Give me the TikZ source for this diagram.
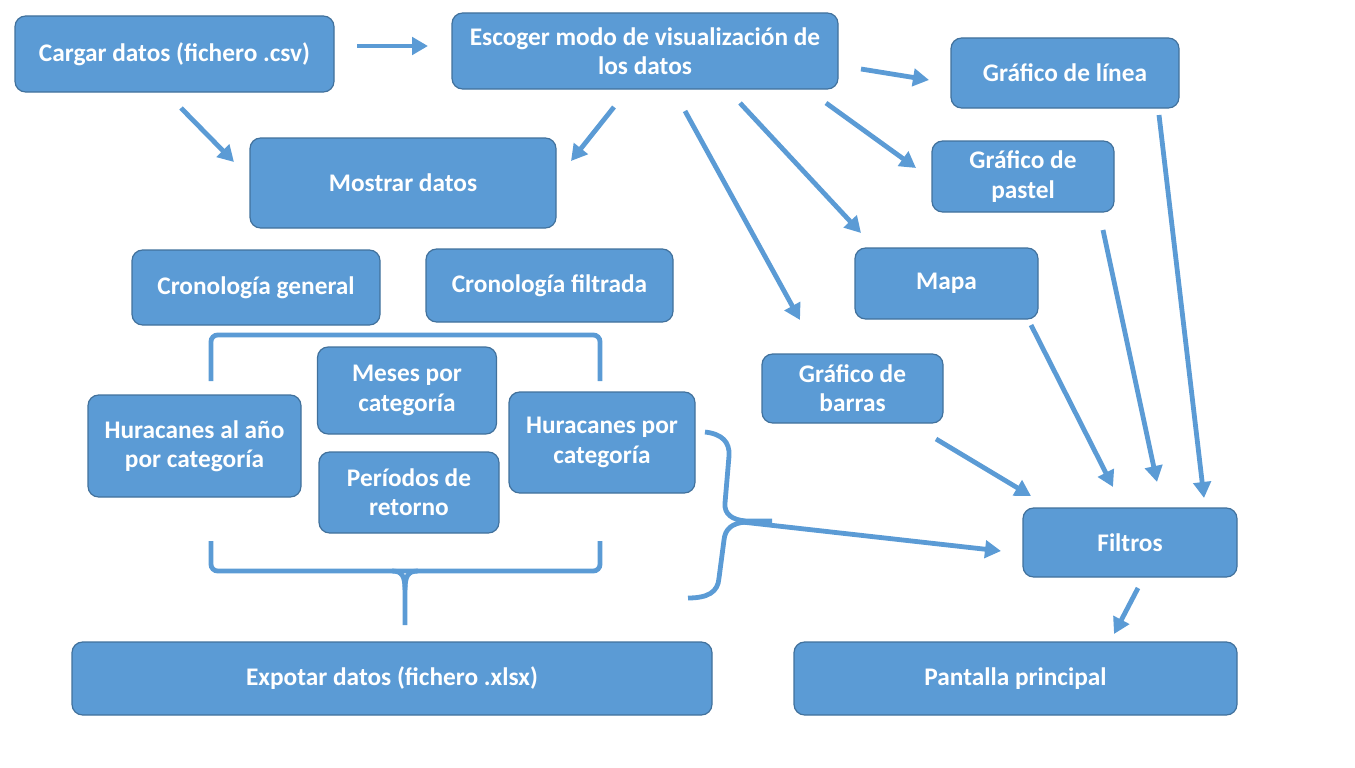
\documentclass[tikz,border=0pt]{standalone}
\usepackage{fontspec}
\setmainfont{Carlito}
\usetikzlibrary{arrows.meta}
\definecolor{boxfill}{RGB}{91,155,213}
\definecolor{boxline}{RGB}{65,113,156}
\definecolor{arr}{RGB}{91,155,213}
\begin{document}
\begin{tikzpicture}[x=0.75pt,y=-0.75pt,
  box/.style 2 args={draw=boxline, line width=0.9pt, fill=boxfill, rounded corners=8pt,
    minimum width=#1*0.75pt, minimum height=#2*0.75pt, inner sep=0pt,
    text=white, align=center, font=\fontsize{19}{22}\selectfont\bfseries},
  conn/.style={draw=arr, line width=3.6pt, -{Triangle[length=12pt,width=13pt]}},
  bracket/.style={draw=arr, line width=3.6pt, rounded corners=5pt}]
\useasboundingbox (0,0) rectangle (1355,767);

% boxes
\node[box={319}{76}] (cargar) at (174.5,54) {Cargar datos (fichero .csv)};
\node[box={386}{76}] (escoger) at (645,51) {Escoger modo de visualización de\\los datos};
\node[box={228}{70}] (linea) at (1065,73) {Gráfico de línea};
\node[box={306}{90}] (mostrar) at (403,183) {Mostrar datos};
\node[box={182}{71}] (pastel) at (1023,176.5) {Gráfico de\\pastel};
\node[box={183}{71}] (mapa) at (946.5,283.5) {Mapa};
\node[box={248}{75}] (crongen) at (256,287.5) {Cronología general};
\node[box={247}{73}] (cronfil) at (549.5,285.5) {Cronología filtrada};
\node[box={181}{69}] (barras) at (852.5,388.5) {Gráfico de\\barras};
\node[box={179}{87}] (meses) at (407,390.5) {Meses por\\categoría};
\node[box={180}{81}] (periodos) at (409,492.5) {Períodos de\\retorno};
\node[box={186}{101}] (hurcat) at (602,442.5) {Huracanes por\\categoría};
\node[box={213}{102}] (huranio) at (194.5,446) {Huracanes al año\\por categoría};
\node[box={214}{69}] (filtros) at (1130,542.5) {Filtros};
\node[box={640}{73}] (exportar) at (392,678.5) {Expotar datos (fichero .xlsx)};
\node[box={443}{73}] (pantalla) at (1015.5,678.5) {Pantalla principal};

% arrow end points
\coordinate (a1s) at (357,46);   \coordinate (a1e) at (428,46);
\coordinate (a2s) at (181,108);  \coordinate (a2e) at (234,162);
\coordinate (a3s) at (614,107);  \coordinate (a3e) at (571,161);
\coordinate (a4s) at (861,69);   \coordinate (a4e) at (929,80);
\coordinate (a5s) at (826,103);  \coordinate (a5e) at (916,168);
\coordinate (a6s) at (740,103);  \coordinate (a6e) at (861,233);
\coordinate (a7s) at (685,111);  \coordinate (a7e) at (800,320);
\coordinate (a8s) at (1159,115); \coordinate (a8e) at (1204,498);
\coordinate (a9s) at (1103,230); \coordinate (a9e) at (1157,482);
\coordinate (a10s) at (1031,325); \coordinate (a10e) at (1113,487);
\coordinate (a11s) at (936,439); \coordinate (a11e) at (1031,496);
\coordinate (a12s) at (1138,588); \coordinate (a12e) at (1114,634);
\coordinate (a13s) at (742,522); \coordinate (a13e) at (1001,551);

\foreach \i in {1,...,13} {\draw[conn] (a\i s) -- (a\i e);}

% top bracket
\draw[bracket] (211,381) -- (211,335) -- (600,335) -- (600,381);
% bottom bracket with stem
\draw[bracket] (211,541) -- (211,571) -- (600,571) -- (600,541);
\draw[draw=arr, line width=3.6pt] (392,571) .. controls (402,571) and (405,576) .. (405,590) -- (405,625);
\draw[draw=arr, line width=3.6pt] (418,571) .. controls (408,571) and (405,576) .. (405,590);
% right brace
\draw[draw=arr, line width=3.6pt]
  (705,432) .. controls (722,434) and (730,442) .. (729,456)
  -- (725,503) .. controls (724,514) and (732,520) .. (746,521) -- (772,521);
\draw[draw=arr, line width=3.6pt]
  (746,522) .. controls (732,523) and (725,529) .. (724,540)
  -- (719,578) .. controls (718,592) and (708,598) .. (688,598);
\end{tikzpicture}
\end{document}
